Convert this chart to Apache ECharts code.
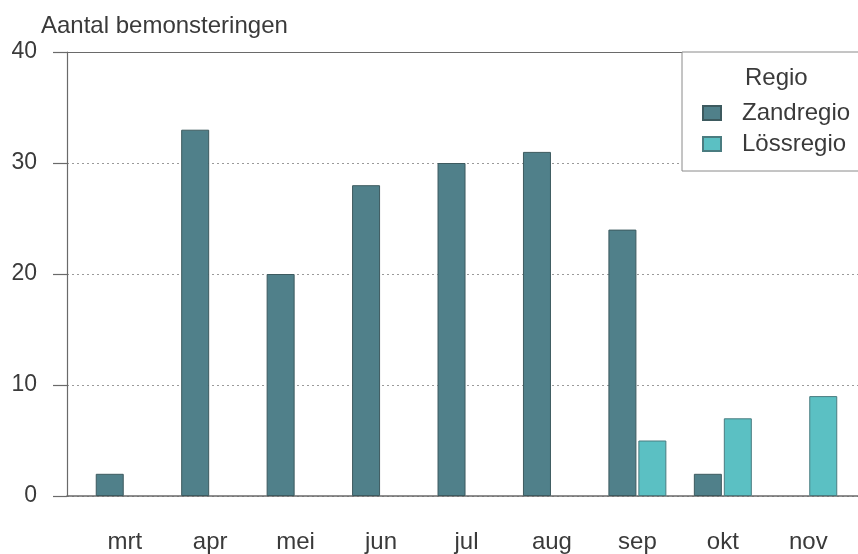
<!DOCTYPE html>
<html>
<head>
<meta charset="utf-8">
<script src="https://cdn.jsdelivr.net/npm/echarts@6/dist/echarts.min.js"></script>
<style>
  html, body { margin: 0; padding: 0; background: #fff; }
  #chart { width: 858px; height: 554px; }
</style>
</head>
<body>
<div id="chart"></div>
<script>
  // gegevens
  var months = ['mrt', 'apr', 'mei', 'jun', 'jul', 'aug', 'sep', 'okt', 'nov'];
  var zandregio = [2, 33, 20, 28, 30, 31, 24, 2, null];
  var lossregio = [null, null, null, null, null, null, 5, 7, 9];
  var yMin = 0, yMax = 40, yStep = 10;

  var textColor = '#3a3a3a';
  var axisColor = '#6a6a6a';
  var font = 'Liberation Sans, Arial, sans-serif';

  var chart = echarts.init(document.getElementById('chart'));
  chart.setOption({
    animation: false,
    textStyle: { fontFamily: font },
    title: [{
      text: 'Aantal bemonsteringen',
      left: 36, top: 9,
      textStyle: { fontSize: 24, fontWeight: 'normal', color: textColor, fontFamily: font }
    }, {
      text: 'Regio',
      left: 740, top: 61,
      z: 6,
      textStyle: { fontSize: 24, fontWeight: 'normal', color: textColor, fontFamily: font }
    }],
    graphic: [{
      type: 'rect',
      z: 3,
      shape: { x: 682, y: 52, width: 200, height: 119 },
      style: { fill: '#fff', stroke: '#8a8a8a', lineWidth: 1 }
    }],
    legend: {
      orient: 'vertical',
      left: 702, top: 101,
      padding: 0,
      itemGap: 7,
      itemWidth: 18, itemHeight: 14,
      icon: 'rect',
      z: 6,
      textStyle: { fontSize: 24, color: textColor, fontFamily: font, padding: [0, 0, 0, 16] },
      data: ['Zandregio', 'Lössregio']
    },
    grid: [
      { left: 67, right: 0, top: 52, bottom: 58 },
      { left: 82, right: 7, top: 52, bottom: 58 }
    ],
    xAxis: [{
      // onderste aslijn
      type: 'value', gridIndex: 0, position: 'bottom', min: 0, max: 1,
      axisLine: { show: true, lineStyle: { color: axisColor, width: 1.5 } },
      axisTick: { show: false }, axisLabel: { show: false }, splitLine: { show: false }
    }, {
      // bovenste lijn
      type: 'value', gridIndex: 0, position: 'top', min: 0, max: 1,
      axisLine: { show: true, lineStyle: { color: axisColor, width: 1.2 } },
      axisTick: { show: false }, axisLabel: { show: false }, splitLine: { show: false }
    }, {
      type: 'category', gridIndex: 1, data: months,
      axisLine: { show: false }, axisTick: { show: false },
      axisLabel: { margin: 34, fontSize: 24, color: textColor, fontFamily: font }
    }],
    yAxis: [{
      type: 'value', gridIndex: 0, min: yMin, max: yMax, interval: yStep,
      axisLine: { show: true, lineStyle: { color: axisColor, width: 1.2 } },
      axisTick: { show: true, length: 14, lineStyle: { color: axisColor, width: 1.2 } },
      axisLabel: { margin: 30, fontSize: 23, color: textColor, fontFamily: font },
      splitLine: { show: true, lineStyle: { color: '#9a9a9a', type: [2, 3], width: 1 } }
    }, {
      type: 'value', gridIndex: 1, min: yMin, max: yMax, interval: yStep, show: false,
      splitLine: { show: false }
    }],
    series: [{
      name: 'Zandregio',
      type: 'bar',
      xAxisIndex: 2, yAxisIndex: 1,
      barWidth: 28,
      barGap: '7%',
      itemStyle: { color: '#50808a', borderColor: '#3d5a5f', borderWidth: 1 },
      data: zandregio
    }, {
      name: 'Lössregio',
      type: 'bar',
      xAxisIndex: 2, yAxisIndex: 1,
      barWidth: 28,
      barGap: '7%',
      itemStyle: { color: '#5bc0c3', borderColor: '#4a7c80', borderWidth: 1 },
      data: lossregio
    }]
  });
</script>
</body>
</html>
